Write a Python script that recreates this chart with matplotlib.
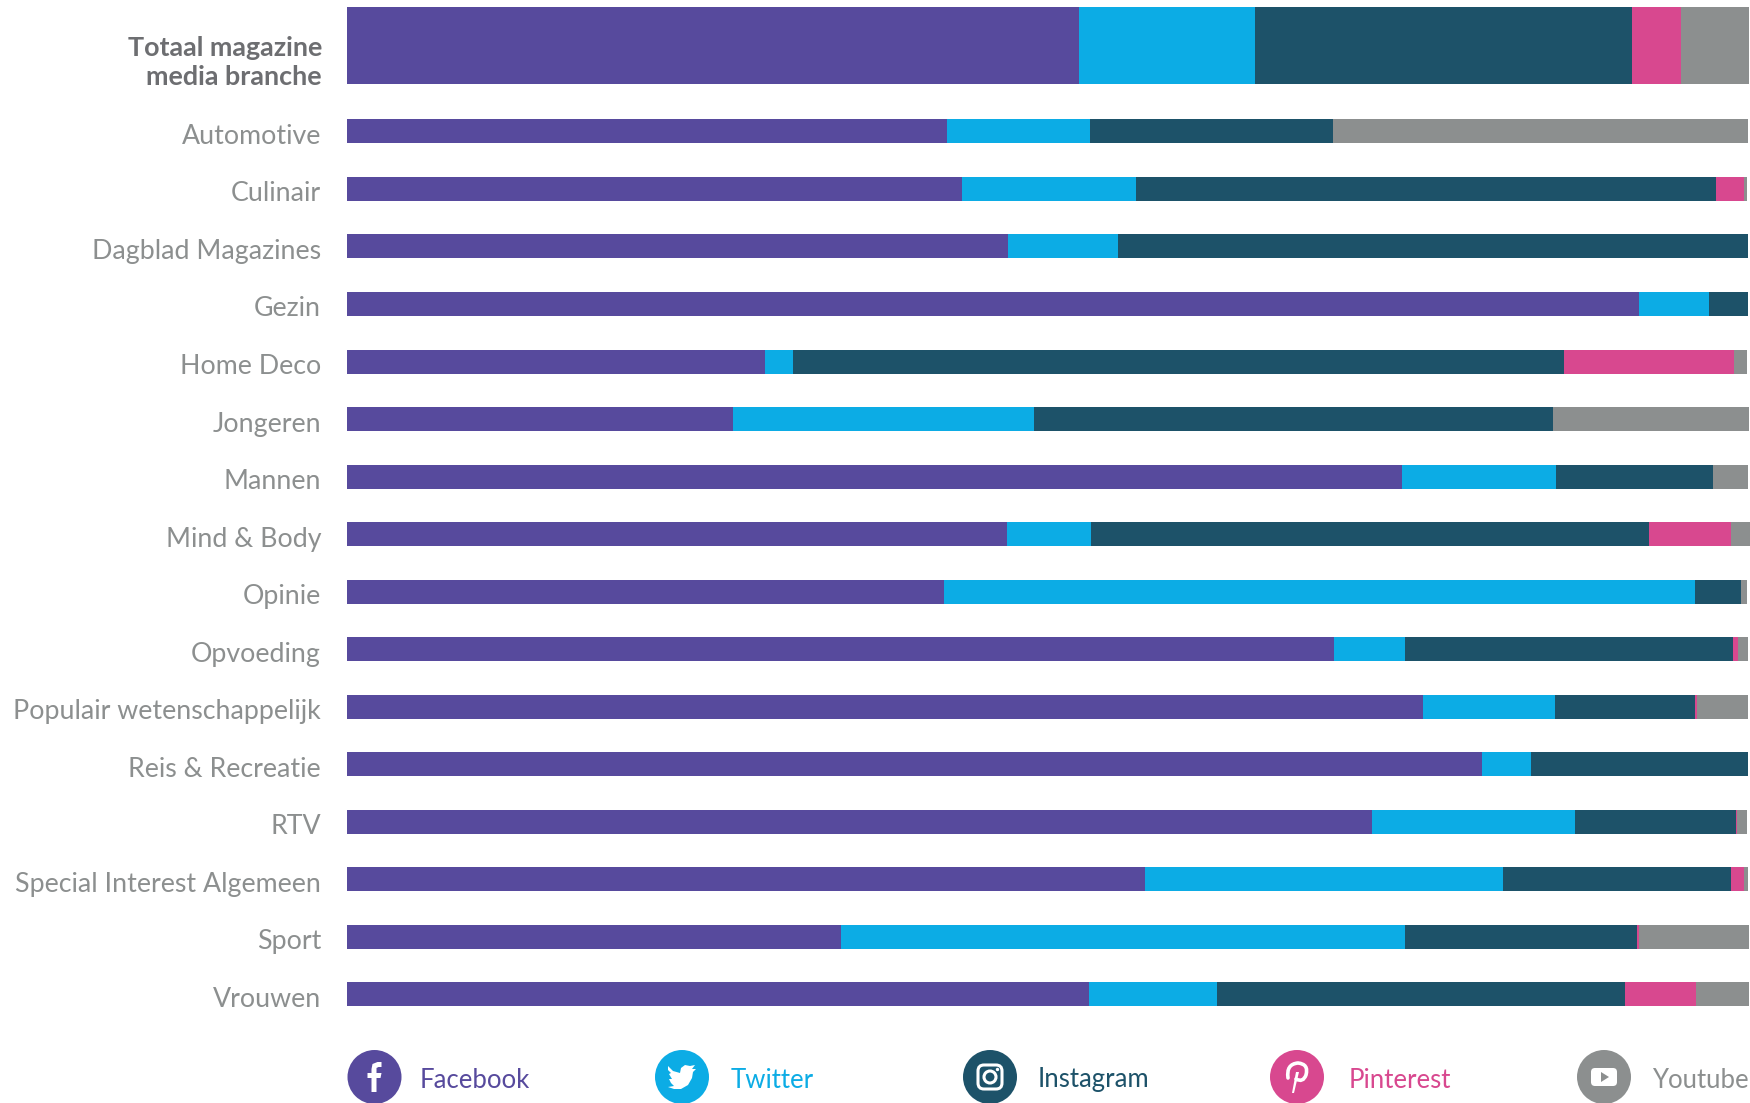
import matplotlib
matplotlib.use('Agg')
import matplotlib.pyplot as plt
from matplotlib.patches import Circle, FancyBboxPatch, PathPatch, Polygon
from matplotlib.path import Path

W, H = 1750, 1103

categories = ['Totaal magazine\nmedia branche', 'Automotive', 'Culinair', 'Dagblad Magazines', 'Gezin',
              'Home Deco', 'Jongeren', 'Mannen', 'Mind & Body', 'Opinie', 'Opvoeding',
              'Populair wetenschappelijk', 'Reis & Recreatie', 'RTV',
              'Special Interest Algemeen', 'Sport', 'Vrouwen']

facebook = [52.25, 42.8, 43.9, 47.2, 92.2, 29.85, 27.55, 75.3, 47.1, 42.6, 70.45, 76.8, 81.0, 73.15, 56.95, 35.25, 52.95]
twitter = [12.55, 10.2, 12.4, 7.8, 5.0, 2.0, 21.5, 11.0, 6.0, 53.6, 5.05, 9.4, 3.5, 14.5, 25.55, 40.3, 9.15]
instagram = [26.95, 17.4, 41.4, 45.0, 2.8, 55.05, 37.0, 11.2, 39.8, 3.3, 23.4, 10.05, 15.5, 11.5, 16.3, 16.55, 29.1]
pinterest = [3.5, 0, 2.0, 0, 0, 12.1, 0, 0, 5.9, 0, 0.4, 0.1, 0, 0.1, 0.9, 0.1, 5.1]
youtube = [4.8, 29.6, 0.2, 0, 0, 0.9, 14.0, 2.5, 1.4, 0.4, 0.7, 3.65, 0, 0.7, 0.3, 7.9, 3.8]

series = ['Facebook', 'Twitter', 'Instagram', 'Pinterest', 'Youtube']
colors = ['#574a9d', '#0cace5', '#1d5269', '#d8488f', '#8c8f8f']

plt.rcParams['font.family'] = ['Lato', 'DejaVu Sans']

fig = plt.figure(figsize=(W / 100, H / 100), dpi=100)

# pixel canvas for the labels and the legend
bg = fig.add_axes([0, 0, 1, 1])
bg.set_xlim(0, W)
bg.set_ylim(H, 0)
bg.axis('off')

# bars: x in percent, one y unit is one row
row = 57.53
x0, x1 = 347, 1748
y_first = 131.4
ax = fig.add_axes([x0 / W, 0, (x1 - x0) / W, 1])
ax.set_xlim(0, 100)
ax.set_ylim((H - y_first) / row, -y_first / row)
ax.axis('off')

ys = [-85.9 / row] + list(range(len(categories) - 1))
heights = [77 / row] + [24 / row] * (len(categories) - 1)

left = [0] * len(categories)
for name, vals, c in zip(series, [facebook, twitter, instagram, pinterest, youtube], colors):
    ax.barh(ys, vals, left=left, height=heights, color=c, linewidth=0, clip_on=False)
    left = [a + b for a, b in zip(left, vals)]

for i, label in enumerate(categories):
    y = y_first + ys[i] * row
    if i == 0:
        bg.text(322, 62.5, label, ha='right', va='center', fontsize=19.4, fontweight='bold',
                color='#6d6e71', linespacing=1.22)
    else:
        bg.text(321, y + 5, label, ha='right', va='center', fontsize=19.3, color='#8c8f8f')

# legend
leg_y = 1077
leg_r = 27
circle_x = [374.5, 682, 990, 1297, 1604]
text_x = [420, 731, 1038, 1349, 1652]

for name, c, cx, tx in zip(series, colors, circle_x, text_x):
    bg.add_patch(Circle((cx, leg_y), leg_r, color=c, lw=0))
    bg.text(tx, leg_y + 3, name, ha='left', va='center', fontsize=18.5, color=c)


def blob(cx, cy, verts):
    pts = [(cx + a, cy + b) for a, b in verts]
    bg.add_patch(Polygon(pts, closed=True, fc='white', ec='none'))


# facebook f
cx = circle_x[0]
blob(cx, leg_y, [(-3, 15), (-3, 1), (-7, 1), (-7, -4), (-3, -4), (-3, -8), (-2, -13), (3, -15), (7, -15),
                 (7, -10), (4, -10), (2, -9), (2, -4), (7, -4), (6, 1), (2, 1), (2, 15)])

# twitter bird
cx = circle_x[1]
blob(cx, leg_y, [(-14, -11), (-9, -6), (-2, -4), (-1, -9), (3, -12), (8, -11), (13, -12), (10, -8), (14, -8),
                 (11, -5), (10, 1), (6, 8), (-1, 12), (-8, 12), (-14, 10), (-8, 9), (-11, 6), (-13, 2),
                 (-10, 2), (-13, -3), (-11, -4), (-14, -7)])

# instagram camera
cx = circle_x[2]
bg.add_patch(FancyBboxPatch((cx - 12, leg_y - 12), 24, 24, boxstyle='round,pad=0,rounding_size=6',
                            fc='none', ec='white', lw=2.2))
bg.add_patch(Circle((cx, leg_y), 6, fc='none', ec='white', lw=2.2))
bg.add_patch(Circle((cx + 7.5, leg_y - 7.5), 1.7, fc='white', ec='none'))

# pinterest p
cx = circle_x[3]
C3, M = Path.CURVE3, Path.MOVETO
bg.add_patch(PathPatch(Path([(cx - 9, leg_y + 1), (cx - 11, leg_y - 13), (cx + 1, leg_y - 14),
                             (cx + 12, leg_y - 13), (cx + 9, leg_y - 2), (cx + 6, leg_y + 6),
                             (cx - 1, leg_y + 2)],
                            [M, C3, C3, C3, C3, C3, C3]),
                       fc='none', ec='white', lw=2.6, capstyle='round'))
blob(cx, leg_y, [(-1, -5), (2, -5), (-3, 16), (-5, 16)])

# youtube play button
cx = circle_x[4]
bg.add_patch(FancyBboxPatch((cx - 13, leg_y - 9), 26, 18, boxstyle='round,pad=0,rounding_size=4',
                            fc='white', ec='none'))
bg.add_patch(Polygon([(cx - 3, leg_y - 5), (cx + 5, leg_y), (cx - 3, leg_y + 5)], closed=True,
                     fc=colors[4], ec='none'))

fig.savefig('out.png', dpi=100)
